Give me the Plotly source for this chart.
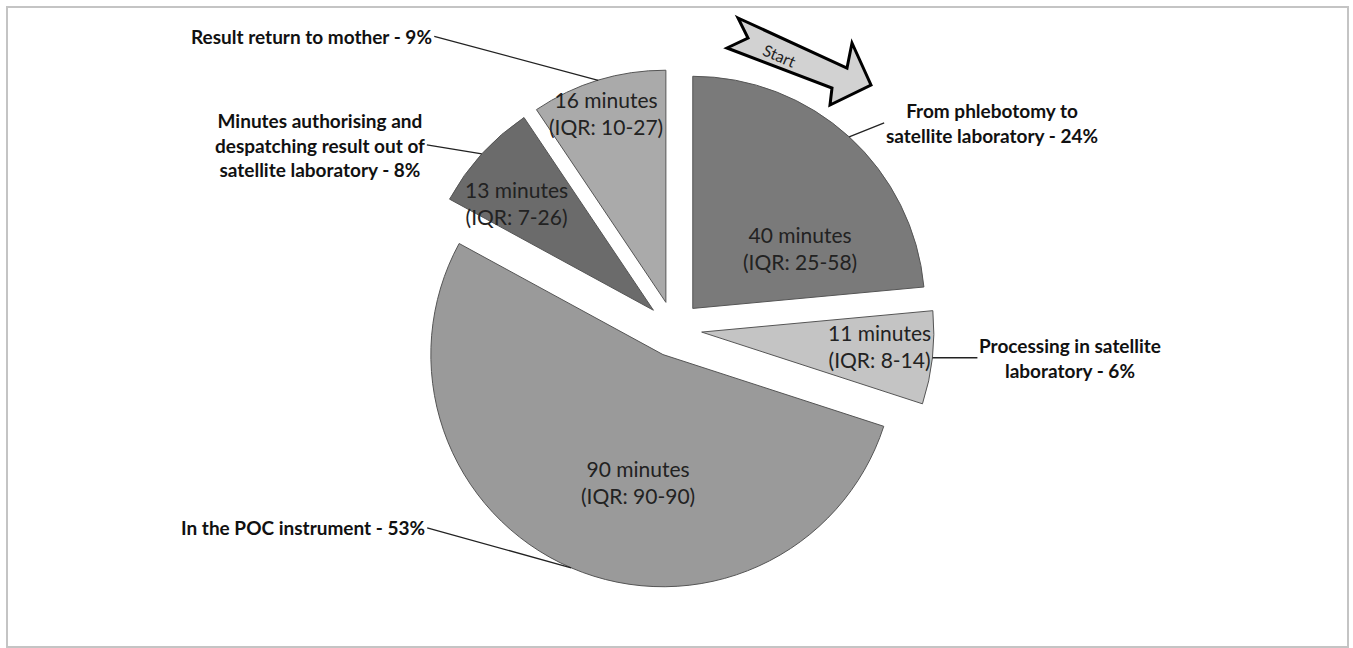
import math
import plotly.graph_objects as go

# ---- data ----
stages = [
    "From phlebotomy to<br>satellite laboratory",
    "Processing in satellite<br>laboratory",
    "In the POC instrument",
    "Minutes authorising and<br>despatching result out of<br>satellite laboratory",
    "Result return to mother",
]
minutes = [40, 11, 90, 13, 16]
iqr_low = [25, 8, 90, 7, 10]
iqr_high = [58, 14, 90, 26, 27]
percent_labels = ["24%", "6%", "53%", "8%", "9%"]

# ---- style ----
colors = ["#7a7a7a", "#c4c4c4", "#9a9a9a", "#6b6b6b", "#aaaaaa"]
W, H = 1353, 648
PULL = 0.12
CX, CY = 674, 329          # pie centre (px)
HALF = 260                 # half of pie domain (px)
# inside-label placement (radial fraction, angle tweak in degrees)
in_frac = [0.53, 0.77, 0.56, 0.75, 0.855]
in_dang = [18.5, -2.0, -12.0, -4.2, -0.7]
# outside label offsets (px) and anchor side
out_ax = [35, 45, -144, -55, -164]
out_ay = [-14, 0, -40, -9, -44]
out_anchor = ["left", "left", "right", "right", "right"]

def px(x, y):
    return x / W, 1 - y / H

fig = go.Figure()
fig.add_trace(go.Pie(
    values=minutes,
    labels=[s.replace("<br>", " ") for s in stages],
    sort=False,
    direction="clockwise",
    rotation=0,
    pull=[PULL] * len(minutes),
    marker=dict(colors=colors, line=dict(color="#555555", width=1)),
    textinfo="none",
    hoverinfo="skip",
    showlegend=False,
    domain=dict(x=[(CX - HALF) / W, (CX + HALF) / W],
                y=[1 - (CY + HALF) / H, 1 - (CY - HALF) / H]),
))

r = 2 * HALF / (2 * (1 + PULL))
total = sum(minutes)
cum = 0
annotations = []
for i, v in enumerate(minutes):
    mid = (cum + v / 2) / total * 360
    cum += v
    dx, dy = math.sin(math.radians(mid)), -math.cos(math.radians(mid))
    ax0, ay0 = CX + PULL * r * dx, CY + PULL * r * dy   # slice apex
    # inside label
    a2 = math.radians(mid + in_dang[i])
    lx = ax0 + in_frac[i] * r * math.sin(a2)
    ly = ay0 - in_frac[i] * r * math.cos(a2)
    x, y = px(lx, ly)
    annotations.append(dict(
        x=x, y=y, xref="paper", yref="paper", showarrow=False,
        xanchor="center", yanchor="middle",
        text=f"{v} minutes<br>(IQR: {iqr_low[i]}-{iqr_high[i]})",
        font=dict(family="Lato", size=21, color="#222222"),
        align="center"))
    # outside label with leader line
    ex, ey = ax0 + r * dx, ay0 + r * dy
    x, y = px(ex, ey)
    annotations.append(dict(
        x=x, y=y, xref="paper", yref="paper", showarrow=True,
        arrowhead=0, arrowwidth=1.3, arrowcolor="#222222",
        ax=out_ax[i], ay=out_ay[i], xanchor=out_anchor[i], yanchor="middle",
        text=f"<b>{stages[i]} - {percent_labels[i]}</b>",
        font=dict(family="Lato", size=19, color="#111111"),
        align="center"))

# "Start" arrow
arrow_pts = [(738, 18), (847, 68), (852, 43), (871, 85), (830, 105),
             (832, 88), (727, 48), (748, 38)]
path = "M " + " L ".join(f"{px(a, b)[0]:.5f},{px(a, b)[1]:.5f}" for a, b in arrow_pts) + " Z"
shapes = [
    dict(type="path", path=path, xref="paper", yref="paper", layer="below",
         fillcolor="#d2d2d2", line=dict(color="#000000", width=3)),
    dict(type="rect", xref="paper", yref="paper", layer="below",
         x0=7 / W, x1=1348 / W, y0=1 - 647 / H, y1=1 - 7 / H,
         line=dict(color="#c4c4c4", width=2)),
]
sx, sy = px(780, 55)
annotations.append(dict(x=sx, y=sy, xref="paper", yref="paper", showarrow=False,
                        xanchor="center", yanchor="middle",
                        text="Start", textangle=23,
                        font=dict(family="Lato", size=16, color="#222222")))

fig.update_layout(
    width=W, height=H,
    margin=dict(l=0, r=0, t=0, b=0),
    paper_bgcolor="white", plot_bgcolor="white",
    annotations=annotations, shapes=shapes,
)
fig.write_html("out.html")
